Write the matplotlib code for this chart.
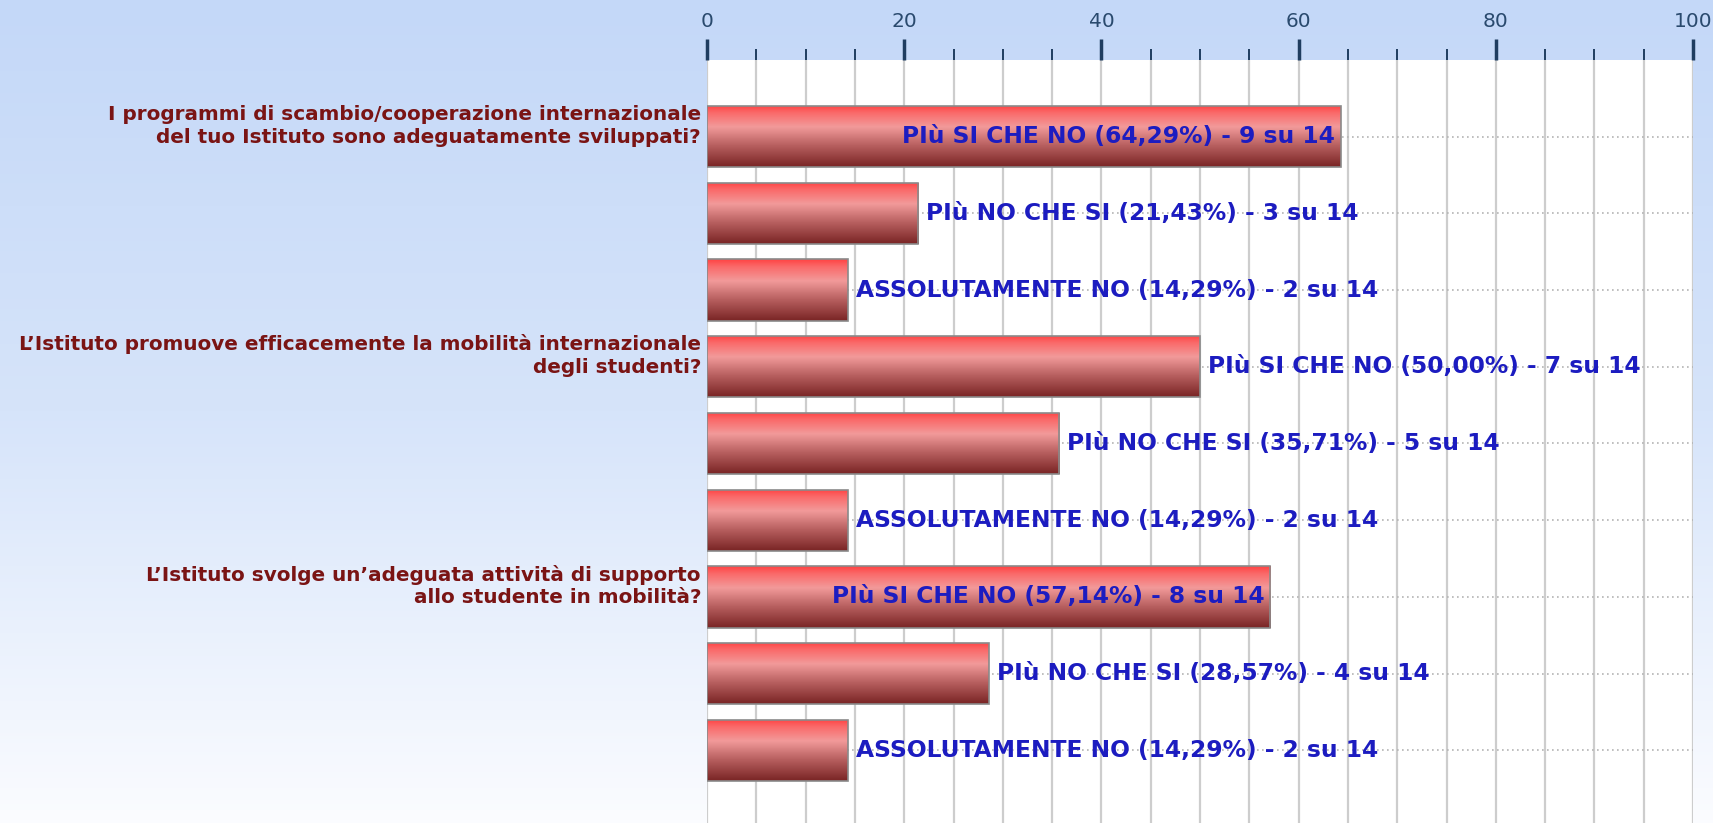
import numpy as np
import matplotlib
matplotlib.use('Agg')
import matplotlib.pyplot as plt
import matplotlib.transforms as mtransforms
from matplotlib.colors import LinearSegmentedColormap

# data
questions = [
    "I programmi di scambio/cooperazione internazionale\ndel tuo Istituto sono adeguatamente sviluppati?",
    "L\u2019Istituto promuove efficacemente la mobilità internazionale\ndegli studenti?",
    "L\u2019Istituto svolge un\u2019adeguata attività di supporto\nallo studente in mobilità?",
]
answers = ["PIù SI CHE NO", "PIù NO CHE SI", "ASSOLUTAMENTE NO"]
counts = [9, 3, 2, 7, 5, 2, 8, 4, 2]
total = 14
percent = [64.29, 21.43, 14.29, 50.00, 35.71, 14.29, 57.14, 28.57, 14.29]

W, H = 1713, 823
fig = plt.figure(figsize=(W / 100, H / 100), dpi=100)

# background gradient
bg = fig.add_axes([0, 0, 1, 1], zorder=-10)
bg_cmap = LinearSegmentedColormap.from_list('bg', ['#c4d8f8', '#d6e4fa', '#fbfcff'])
bg.imshow(np.linspace(0, 1, 256).reshape(-1, 1), cmap=bg_cmap, aspect='auto',
          extent=[0, 1, 0, 1], origin='upper')
bg.axis('off')

ax = fig.add_axes([707 / W, -4 / H, (1693 - 707) / W, (823 - 60 + 4) / H])
ax.set_facecolor('white')

n = len(counts)
ypos = np.arange(n)
bar_h = 0.8

bar_cmap = LinearSegmentedColormap.from_list(
    'bar', [(0, '#ff4444'), (0.12, '#fa6a6a'), (0.35, '#f29a9a'),
            (0.65, '#b86060'), (1, '#7a2525')])
grad = np.linspace(0, 1, 100).reshape(-1, 1)

# horizontal dotted grid through bar centres
for y in ypos:
    ax.axhline(y, color='#b4b4b4', lw=1.2, ls=(0, (1, 2)), zorder=1)

bars = ax.barh(ypos, percent, height=bar_h, color='none', edgecolor='#8a8a8a',
               lw=1.2, zorder=3)
for b, v, y in zip(bars, percent, ypos):
    im = ax.imshow(grad, cmap=bar_cmap, aspect='auto', origin='upper',
                   extent=[0, v, y + bar_h / 2, y - bar_h / 2], zorder=2)
    im.set_clip_path(b)

ax.set_xlim(0, 100)
ax.set_ylim(n, -1)

ax.set_xticks(np.arange(0, 101, 20))
ax.set_xticks(np.arange(0, 101, 5), minor=True)
ax.xaxis.tick_top()
ax.tick_params(axis='x', which='major', direction='out', length=15, width=2.5,
               color='#1f3d60', labelcolor='#2a4a6e', labelsize=14.5, pad=6)
ax.tick_params(axis='x', which='minor', direction='out', length=8, width=1.4,
               color='#1f3d60')
ax.set_yticks([])
ax.grid(axis='x', which='both', color='#cdcdcd', lw=1.6, zorder=0)
ax.set_axisbelow(True)
for s in ax.spines.values():
    s.set_visible(False)

# question labels on the left
trans = mtransforms.blended_transform_factory(ax.transAxes, ax.transData)
for i, q in enumerate(questions):
    ax.annotate(q, xy=(0, i * len(answers)), xycoords=trans,
                xytext=(-6, 11), textcoords='offset pixels',
                ha='right', va='center', fontsize=14.4, fontweight='bold',
                color='#7a1414', linespacing=1.25, annotation_clip=False)

# value labels
for i, (c, p) in enumerate(zip(counts, percent)):
    txt = "%s (%s%%) - %d su %d" % (answers[i % len(answers)],
                                    ("%.2f" % p).replace('.', ','), c, total)
    if p > 55:
        ax.annotate(txt, xy=(p, i), xytext=(-6, 0), textcoords='offset pixels',
                    ha='right', va='center', fontsize=16.8, fontweight='bold',
                    color='#1c1cc0', zorder=5)
    else:
        ax.annotate(txt, xy=(p, i), xytext=(8, 0), textcoords='offset pixels',
                    ha='left', va='center', fontsize=16.8, fontweight='bold',
                    color='#1c1cc0', zorder=5)

fig.savefig('out.png', dpi=100)
